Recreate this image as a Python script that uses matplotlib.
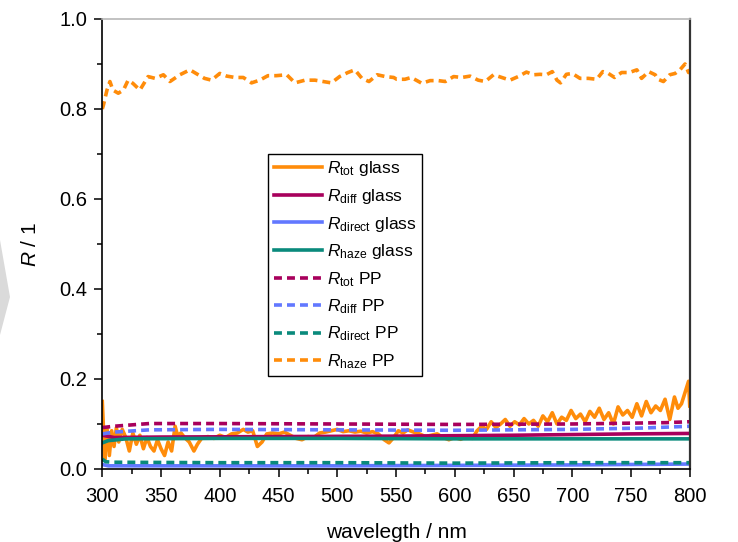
import matplotlib
matplotlib.use("Agg")
import matplotlib.pyplot as plt
from matplotlib.ticker import AutoMinorLocator, MultipleLocator
from matplotlib.patches import Polygon

plt.rcParams['font.family'] = ['Liberation Sans', 'DejaVu Sans']
plt.rcParams['mathtext.fontset'] = 'custom'
plt.rcParams['mathtext.rm'] = 'Liberation Sans'
plt.rcParams['mathtext.it'] = 'Liberation Sans:italic'

# R_tot glass (noisy)
tot_glass_wl = [300, 301, 302, 304, 306, 308, 310, 312, 314, 317,
                320, 323, 326, 329, 332, 335, 338, 341, 344, 347,
                350, 353, 356, 359, 362, 364, 367, 370, 374, 378,
                381, 385, 390, 395, 400, 405, 410, 415, 420, 424,
                428, 432, 436, 440, 445, 450, 455, 460, 465, 470,
                475, 480, 485, 490, 495, 500, 505, 510, 515, 520,
                525, 530, 535, 540, 544, 548, 552, 556, 560, 565,
                570, 575, 580, 585, 590, 595, 600, 605, 610, 615,
                619, 623, 627, 631, 635, 639, 643, 647, 651, 655,
                659, 663, 667, 671, 675, 679, 683, 687, 691, 695,
                699, 703, 707, 711, 715, 719, 723, 727, 731, 735,
                739, 743, 747, 751, 755, 759, 763, 767, 771, 775,
                779, 783, 787, 790, 793, 796, 799, 800]
tot_glass = [0.150, 0.090, 0.020, 0.090, 0.030, 0.085, 0.050, 0.092, 0.060, 0.088,
             0.070, 0.040, 0.080, 0.055, 0.075, 0.045, 0.070, 0.050, 0.040, 0.065,
             0.045, 0.030, 0.060, 0.040, 0.095, 0.075, 0.080, 0.070, 0.060, 0.040,
             0.055, 0.070, 0.072, 0.068, 0.075, 0.070, 0.078, 0.080, 0.088, 0.082,
             0.085, 0.050, 0.060, 0.078, 0.080, 0.078, 0.082, 0.075, 0.068, 0.065,
             0.072, 0.070, 0.080, 0.082, 0.085, 0.088, 0.083, 0.085, 0.082, 0.084,
             0.080, 0.083, 0.078, 0.065, 0.058, 0.070, 0.085, 0.080, 0.087, 0.082,
             0.078, 0.072, 0.075, 0.078, 0.070, 0.065, 0.070, 0.066, 0.072, 0.068,
             0.085, 0.095, 0.088, 0.105, 0.092, 0.100, 0.110, 0.095, 0.105, 0.098,
             0.112, 0.100, 0.108, 0.095, 0.118, 0.105, 0.125, 0.100, 0.115, 0.108,
             0.130, 0.112, 0.122, 0.105, 0.128, 0.115, 0.135, 0.110, 0.125, 0.100,
             0.138, 0.120, 0.130, 0.115, 0.145, 0.118, 0.150, 0.125, 0.140, 0.130,
             0.155, 0.110, 0.160, 0.135, 0.145, 0.170, 0.195, 0.140]

diff_glass_wl = [300, 310, 350, 450, 550, 650, 750, 800]
diff_glass = [0.075, 0.070, 0.071, 0.072, 0.073, 0.075, 0.078, 0.079]

direct_glass_wl = [300, 305, 400, 500, 600, 700, 800]
direct_glass = [0.010, 0.007, 0.007, 0.007, 0.008, 0.009, 0.011]

haze_glass_wl = [300, 305, 320, 400, 500, 600, 700, 800]
haze_glass = [0.058, 0.063, 0.067, 0.068, 0.068, 0.067, 0.067, 0.067]

tot_pp_wl = [300, 310, 340, 400, 500, 600, 700, 780, 800]
tot_pp = [0.092, 0.095, 0.101, 0.101, 0.100, 0.099, 0.100, 0.103, 0.105]

diff_pp_wl = [300, 310, 340, 400, 500, 600, 700, 760, 800]
diff_pp = [0.078, 0.082, 0.087, 0.088, 0.087, 0.086, 0.088, 0.091, 0.095]

direct_pp_wl = [300, 303, 310, 400, 500, 600, 700, 800]
direct_pp = [0.022, 0.016, 0.015, 0.014, 0.014, 0.013, 0.014, 0.014]

# R_haze PP (noisy, near 0.87)
haze_pp_wl = [300, 301, 304, 306.5, 309, 313.6, 318, 322, 326, 332,
              339, 345, 352, 357.6, 366, 374.6, 381.7, 387, 393, 400,
              406, 413, 420, 427, 434, 441, 448, 457, 464, 472.5,
              481, 488, 495, 502, 509, 515, 521, 527, 534, 541,
              548, 550.6, 557.6, 563, 572, 579, 586, 592, 599, 606,
              613, 620, 626, 633, 640, 647, 654, 661, 667, 672.6,
              678, 683, 687, 690, 695, 700, 706.6, 713.7, 720.8, 726,
              730.7, 736, 742, 748.6, 755, 759, 765, 770.6, 773, 777.6,
              783, 787.6, 792, 796, 799, 800]
haze_pp = [0.800, 0.809, 0.842, 0.861, 0.842, 0.835, 0.842, 0.864, 0.857, 0.842,
           0.872, 0.868, 0.876, 0.861, 0.876, 0.887, 0.876, 0.868, 0.864, 0.879,
           0.873, 0.870, 0.870, 0.858, 0.864, 0.874, 0.874, 0.876, 0.858, 0.864,
           0.864, 0.861, 0.858, 0.872, 0.881, 0.887, 0.868, 0.861, 0.876, 0.872,
           0.870, 0.866, 0.866, 0.870, 0.857, 0.863, 0.863, 0.861, 0.872, 0.870,
           0.873, 0.864, 0.861, 0.876, 0.870, 0.864, 0.872, 0.882, 0.876, 0.877,
           0.876, 0.883, 0.864, 0.858, 0.877, 0.879, 0.868, 0.868, 0.866, 0.883,
           0.879, 0.870, 0.881, 0.881, 0.887, 0.868, 0.883, 0.876, 0.866, 0.861,
           0.876, 0.879, 0.888, 0.900, 0.881, 0.885]

orange = '#ff8c0a'
wine = '#a8005c'
blue = '#6278ff'
teal = '#0a8a7c'

fig = plt.figure(figsize=(7.38, 5.42), dpi=100)
ax = fig.add_axes([0.1386, 0.1347, 0.796, 0.8303])

# faint grey shape at the left edge of the picture
fig.patches.append(Polygon([(0, 1 - 240 / 542), (10 / 738, 1 - 297 / 542), (0, 1 - 335 / 542)],
                           closed=True, transform=fig.transFigure, facecolor='#dadada',
                           edgecolor='none', zorder=0))

lw = 2.6
dash = (2.2, 1.4)
ax.plot(tot_glass_wl, tot_glass, color=orange, lw=lw, label=r'$R_{\rm tot}$ glass')
ax.plot(diff_glass_wl, diff_glass, color=wine, lw=lw, label=r'$R_{\rm diff}$ glass')
ax.plot(direct_glass_wl, direct_glass, color=blue, lw=lw, label=r'$R_{\rm direct}$ glass')
ax.plot(haze_glass_wl, haze_glass, color=teal, lw=lw, label=r'$R_{\rm haze}$ glass')
ax.plot(tot_pp_wl, tot_pp, color=wine, lw=lw, dashes=dash, label=r'$R_{\rm tot}$ PP')
ax.plot(diff_pp_wl, diff_pp, color=blue, lw=lw, dashes=dash, label=r'$R_{\rm diff}$ PP')
ax.plot(direct_pp_wl, direct_pp, color=teal, lw=lw, dashes=dash, label=r'$R_{\rm direct}$ PP')
ax.plot(haze_pp_wl, haze_pp, color=orange, lw=lw, dashes=dash, label=r'$R_{\rm haze}$ PP')

ax.set_xlim(300, 800)
ax.set_ylim(0, 1.0)
ax.xaxis.set_major_locator(MultipleLocator(50))
ax.yaxis.set_major_locator(MultipleLocator(0.2))
ax.xaxis.set_minor_locator(AutoMinorLocator(2))
ax.yaxis.set_minor_locator(AutoMinorLocator(2))
ax.tick_params(which='major', direction='out', length=6, width=1.1, labelsize=14.5,
               pad=5, top=False, right=False)
ax.tick_params(axis='x', which='major', pad=7)
ax.tick_params(which='minor', direction='out', length=3.5, width=1.1, top=False, right=False)
ax.set_yticklabels([f'{v:.1f}' for v in ax.get_yticks()])

for side in ['left', 'bottom']:
    ax.spines[side].set_linewidth(1.2)
    ax.spines[side].set_color('black')
ax.spines['right'].set_color('#333333')
ax.spines['right'].set_linewidth(1.6)
ax.spines['top'].set_color('#b8b8b8')
ax.spines['top'].set_linewidth(1.2)

ax.set_xlabel('wavelegth / nm', fontsize=15, labelpad=12)
ax.set_ylabel(r'$R$ / 1', fontsize=15, labelpad=14)

leg = ax.legend(loc='upper left', bbox_to_anchor=(0.2826, 0.700), borderaxespad=0,
                fontsize=12.5, handlelength=2.8, labelspacing=0.5, handletextpad=0.3,
                borderpad=0.3, fancybox=False, framealpha=1, edgecolor='black')
leg.get_frame().set_linewidth(1.0)

fig.savefig('out.png', dpi=100)
